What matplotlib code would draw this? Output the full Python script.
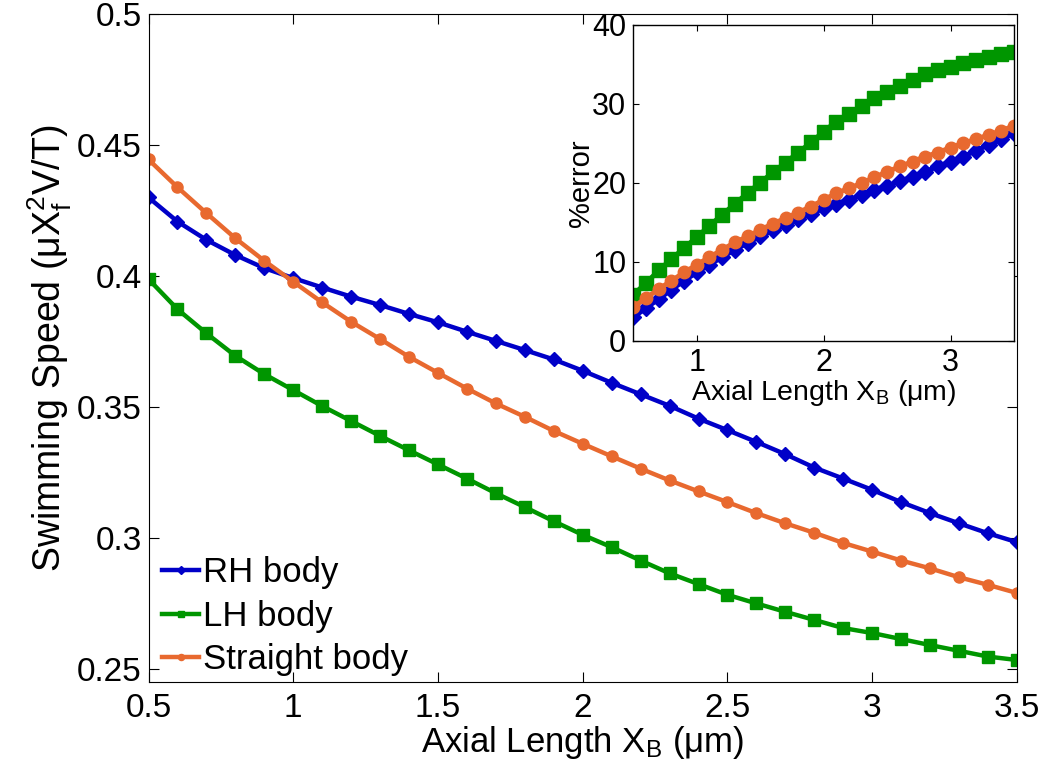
import matplotlib
matplotlib.use("Agg")
import matplotlib.pyplot as plt
import numpy as np

plt.rcParams['font.family'] = ['Liberation Sans', 'DejaVu Sans']
plt.rcParams['mathtext.fontset'] = 'custom'
plt.rcParams['mathtext.rm'] = 'Liberation Sans'
plt.rcParams['mathtext.it'] = 'Liberation Sans'

# Axial length (um)
x = np.round(np.arange(0.5, 3.51, 0.1), 2)

# Swimming speed (main plot)
rh_speed = [0.4301, 0.4209, 0.4139, 0.4081, 0.4031, 0.3993, 0.3957, 0.3922, 0.3890, 0.3856,
            0.3824, 0.3788, 0.3753, 0.3718, 0.3682, 0.3639, 0.3593, 0.3549, 0.3505, 0.3456,
            0.3412, 0.3367, 0.3320, 0.3269, 0.3227, 0.3184, 0.3137, 0.3095, 0.3056, 0.3018, 0.2984]
lh_speed = [0.3989, 0.3874, 0.3782, 0.3696, 0.3626, 0.3565, 0.3504, 0.3447, 0.3390, 0.3335,
            0.3281, 0.3227, 0.3171, 0.3118, 0.3064, 0.3012, 0.2965, 0.2914, 0.2865, 0.2824,
            0.2783, 0.2750, 0.2718, 0.2687, 0.2656, 0.2637, 0.2614, 0.2591, 0.2569, 0.2547, 0.2534]
st_speed = [0.4446, 0.4340, 0.4241, 0.4145, 0.4059, 0.3979, 0.3900, 0.3826, 0.3760, 0.3692,
            0.3631, 0.3571, 0.3514, 0.3463, 0.3409, 0.3360, 0.3312, 0.3265, 0.3220, 0.3178,
            0.3137, 0.3095, 0.3056, 0.3020, 0.2981, 0.2948, 0.2914, 0.2884, 0.2850, 0.2821, 0.2790]

# % error (inset)
rh_err = [2.95, 4.14, 5.27, 6.46, 7.59, 8.65, 9.62, 10.59, 11.52, 12.36,
          13.21, 13.97, 14.68, 15.40, 16.08, 16.75, 17.34, 17.85, 18.48, 19.11,
          19.66, 20.17, 20.80, 21.43, 22.07, 22.70, 23.33, 24.09, 24.81, 25.53, 26.29]
lh_err = [5.82, 7.30, 8.90, 10.34, 11.73, 13.12, 14.56, 15.95, 17.34, 18.69,
          20.04, 21.31, 22.57, 23.84, 25.11, 26.50, 27.76, 28.73, 29.75, 30.72,
          31.56, 32.32, 33.04, 33.76, 34.30, 34.73, 35.15, 35.57, 35.91, 36.33, 36.62]
st_err = [4.26, 5.40, 6.54, 7.59, 8.65, 9.62, 10.59, 11.52, 12.45, 13.21,
          14.05, 14.81, 15.53, 16.24, 17.00, 17.85, 18.69, 19.32, 19.96, 20.72,
          21.39, 22.07, 22.70, 23.33, 23.84, 24.47, 25.02, 25.53, 26.08, 26.62, 27.22]

labels = ["RH body", "LH body", "Straight body"]
colors = ["#0000C8", "#009600", "#E8692F"]
markers = ["D", "s", "o"]
msizes = [7, 8, 8]

fig = plt.figure(figsize=(10.48, 7.78), dpi=100)
ax = fig.add_axes([0.1417, 0.1234, 0.8287, 0.858])

for ys, lab, c, m, ms in zip([rh_speed, lh_speed, st_speed], labels, colors, markers, msizes):
    ax.plot(x, ys, color=c, lw=3.2, marker=m, ms=ms, mec=c, label=lab)

ax.set_xlim(0.5, 3.5)
ax.set_ylim(0.245, 0.5)
ax.set_xticks([0.5, 1, 1.5, 2, 2.5, 3, 3.5])
ax.set_xticklabels(["0.5", "1", "1.5", "2", "2.5", "3", "3.5"])
ax.set_yticks([0.25, 0.3, 0.35, 0.4, 0.45, 0.5])
ax.set_yticklabels(["0.25", "0.3", "0.35", "0.4", "0.45", "0.5"])
ax.tick_params(direction='in', top=True, right=True, length=7, width=0.8, labelsize=24)
ax.tick_params(axis='x', pad=8)
ax.tick_params(axis='y', pad=5)
for s in ax.spines.values():
    s.set_linewidth(0.8)
ax.set_xlabel("Axial Length X$_\\mathregular{B}$ (μm)", fontsize=25, labelpad=0)
ax.set_ylabel("Swimming Speed (μX$_\\mathregular{f}^\\mathregular{2}$V/T)", fontsize=27, labelpad=2)

leg = ax.legend(loc='lower left', bbox_to_anchor=(0.0, -0.012), frameon=False,
                fontsize=25, handlelength=1.05, handletextpad=0.12, labelspacing=0.3,
                markerscale=0.55, borderpad=0.3, borderaxespad=0.1)

# inset
axin = fig.add_axes([0.6043, 0.5621, 0.3633, 0.4058])
axin.set_facecolor('white')
for ys, c, m, ms in zip([rh_err, lh_err, st_err], colors, markers, [8, 10, 9]):
    axin.plot(x, ys, color=c, lw=3.5, marker=m, ms=ms, mec=c)
axin.set_xlim(0.5, 3.5)
axin.set_ylim(0, 40)
axin.set_xticks([1, 2, 3])
axin.set_yticks([0, 10, 20, 30, 40])
axin.tick_params(direction='in', top=True, right=True, length=4, width=0.8,
                 labelsize=22, pad=5)
for s in axin.spines.values():
    s.set_linewidth(1.0)
axin.set_xlabel("Axial Length X$_\\mathregular{B}$ (μm)", fontsize=20.5, labelpad=0)
axin.set_ylabel("%error", fontsize=21, labelpad=-2)

fig.savefig("out.png", dpi=100)
